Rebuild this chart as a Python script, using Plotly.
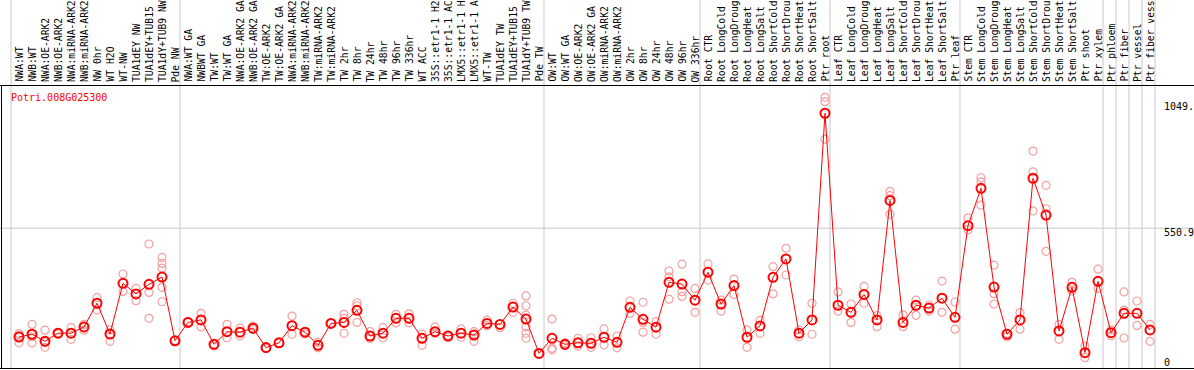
import plotly.graph_objects as go

gene = "Potri.008G025300"

labels = [
    "NWA:WT", "NWB:WT", "NWA:OE-ARK2", "NWB:OE-ARK2", "NWA:miRNA-ARK2", "NWB:miRNA-ARK2",
    "NW 0hr", "WT H2O", "WT-NW", "TUA1dEY NW", "TUA1dEY+TUB15", "TUA1dY+TUB9 NW", "Pde NW",
    "NWA:WT GA", "NWBWT GA", "TW:WT", "TW:WT GA", "NWA:OE-ARK2 GA", "NWB:OE-ARK2 GA",
    "TW:OE-ARK2", "TW:OE-ARK2 GA", "NWA:miRNA-ARK2", "NWB:miRNA-ARK2", "TW:miRNA-ARK2",
    "TW:miRNA-ARK2", "TW 2hr", "TW 8hr", "TW 24hr", "TW 48hr", "TW 96hr", "TW 336hr",
    "WT ACC", "35S::etr1-1 H2", "35S::etr1-1 AC", "LMX5::etr1-1 H", "LMX5::etr1-1 A",
    "WT-TW", "TUA1dEY TW", "TUA1dEY+TUB15", "TUA1dY+TUB9 TW", "Pde TW",
    "OW:WT", "OW:WT GA", "OW:OE-ARK2", "OW:OE-ARK2 GA", "OW:miRNA-ARK2", "OW:miRNA-ARK2",
    "OW 2hr", "OW 8hr", "OW 24hr", "OW 48hr", "OW 96hr", "OW 336hr",
    "Root CTR", "Root LongCold", "Root LongDroug", "Root LongHeat", "Root LongSalt",
    "Root ShortCold", "Root ShortDrou", "Root ShortHeat", "Root ShortSalt", "Ptr root",
    "Leaf CTR", "Leaf LongCold", "Leaf LongDroug", "Leaf LongHeat", "Leaf LongSalt",
    "Leaf ShortCold", "Leaf ShortDrou", "Leaf ShortHeat", "Leaf ShortSalt", "Ptr leaf",
    "Stem CTR", "Stem LongCold", "Stem LongDroug", "Stem LongHeat", "Stem LongSalt",
    "Stem ShortCold", "Stem ShortDrou", "Stem ShortHeat", "Stem ShortSalt", "Ptr shoot",
    "Ptr xylem", "Ptr phloem", "Ptr fiber", "Ptr vessel", "Ptr fiber vess",
]

means = [
    119, 130, 102, 134, 134, 159, 253, 131, 332, 290, 328, 357, 104,
    177, 187, 90, 140, 138, 154, 77, 96, 164, 138, 86, 173, 177, 225, 123, 134, 193, 193,
    114, 140, 123, 134, 127, 173, 169, 238, 190, 54,
    114, 90, 96, 94, 118, 98, 237, 189, 158, 336, 329, 265,
    376, 250, 323, 118, 163, 356, 429, 134, 187, 1007,
    245, 217, 288, 187, 661, 177, 245, 234, 273, 197,
    561, 709, 317, 130, 187, 749, 603, 143, 316, 57,
    340, 136, 213, 213, 147,
]

replicates = [
    [133, 96, 127], [169, 96, 120], [146, 78, 100], [137, 131], [156, 110], [169, 146],
    [275, 226], [147, 102], [369, 300], [312, 263], [488, 296, 193],
    [435, 411, 392, 316, 259], [106],
    [180], [213, 159], [84], [169, 116], [154, 123], [162, 148], [74], [96], [202, 130],
    [140, 132], [98, 76], [175], [209, 134, 193], [255, 243, 177], [140, 113], [156, 116],
    [209, 175], [211, 175], [131, 86], [159, 134], [126, 118], [151, 118], [140, 102],
    [186, 164], [156], [253, 217], [282, 243, 206, 160, 134, 114], [52],
    [190, 74, 68], [96, 86], [114, 83], [116, 78], [151, 88], [123, 76], [262, 213],
    [257, 138, 177], [180, 130], [381, 358, 269], [408, 299, 280], [312, 217],
    [409, 345], [265, 222], [349, 288], [147, 78], [185, 134], [398, 290], [471, 365],
    [147, 120], [253, 130], [1070, 1053, 904],
    [298, 222], [250, 177], [320, 253], [204, 160], [697, 680, 606], [207, 160],
    [265, 205], [246, 222], [341, 217], [258, 150],
    [592, 545], [751, 735, 642], [404, 291, 250], [134, 120], [216, 150],
    [857, 774, 619], [721, 628, 459], [169, 110], [336, 302], [83, 37],
    [388, 312], [147, 124], [298, 115, 226], [262, 165], [169, 102],
]

group_ends = [-1, 12, 40, 52, 62, 72, 83, 84, 85, 86, 87]
ytick_vals = [0, 550.9, 1049]
ytick_text = ["0", "550.9", "1049."]

# ---- geometry (pixels) ----
W, H = 1194, 370
PLOT_TOP, PLOT_BOT = 85, 369
PH = PLOT_BOT - PLOT_TOP
STEP = 13.0
X0 = 19.0
xmin = -X0 / STEP
xmax = xmin + W / STEP
K = 0.252
ZERO_PX = 367.0
ymin = (ZERO_PX - PLOT_BOT) / K
ymax = (ZERO_PX - PLOT_TOP) / K


def py(p):
    return (PLOT_BOT - p) / PH


fig = go.Figure()

rx, ry = [], []
for i, rs in enumerate(replicates):
    for v in rs:
        rx.append(i)
        ry.append(v)

fig.add_trace(go.Scatter(
    x=rx, y=ry, mode="markers",
    marker=dict(symbol="circle-open", size=8, color="#f2a0a0", line=dict(width=1.2, color="#f2a0a0")),
    hoverinfo="skip", showlegend=False, cliponaxis=False,
))
fig.add_trace(go.Scatter(
    x=list(range(len(means))), y=means, mode="lines+markers",
    line=dict(color="#ff0000", width=1),
    marker=dict(symbol="circle-open", size=9, color="#ff0000", line=dict(width=2, color="#ff0000")),
    showlegend=False, cliponaxis=False,
))

shapes = []
for g in group_ends:
    px = X0 + STEP * (g + 0.385)
    shapes.append(dict(type="line", xref="paper", yref="paper",
                       x0=px / W, x1=px / W, y0=0, y1=py(0),
                       line=dict(color="#c8c8c8", width=1), layer="below"))
shapes.append(dict(type="line", xref="paper", yref="y", x0=0, x1=1,
                   y0=ytick_vals[1], y1=ytick_vals[1],
                   line=dict(color="#c8c8c8", width=1), layer="below"))
# plot borders: top, bottom, left
shapes.append(dict(type="line", xref="paper", yref="paper", x0=0, x1=1, y0=py(85.5), y1=py(85.5),
                   line=dict(color="black", width=1)))
shapes.append(dict(type="line", xref="paper", yref="paper", x0=0, x1=1, y0=py(368.5), y1=py(368.5),
                   line=dict(color="black", width=1)))
shapes.append(dict(type="line", xref="paper", yref="paper", x0=1.5 / W, x1=1.5 / W,
                   y0=py(368.5), y1=py(85.5), line=dict(color="black", width=1)))

annotations = []
mono = "DejaVu Sans Mono"
for i, lab in enumerate(labels):
    px = X0 + STEP * i
    annotations.append(dict(
        text=lab, xref="paper", yref="paper", x=px / W, y=py(83),
        xanchor="center", yanchor="bottom", textangle=-90, showarrow=False,
        font=dict(family=mono, size=9.7, color="black"), borderpad=0,
    ))

annotations.append(dict(text=gene, xref="paper", yref="paper", x=10 / W, y=py(97),
                        xanchor="left", yanchor="middle", showarrow=False,
                        font=dict(family=mono, size=10, color="#ff0000"), borderpad=0))

offsets = [-5, 4, 4]
for v, t, off in zip(ytick_vals, ytick_text, offsets):
    pv = ZERO_PX - K * v + off
    annotations.append(dict(text=t, xref="paper", yref="paper", x=1163 / W, y=py(pv),
                            xanchor="left", yanchor="middle", showarrow=False,
                            font=dict(family=mono, size=10, color="black"), borderpad=0))

fig.update_layout(
    width=W, height=H,
    margin=dict(l=0, r=0, t=PLOT_TOP, b=H - PLOT_BOT),
    paper_bgcolor="white", plot_bgcolor="white",
    xaxis=dict(range=[xmin, xmax], showgrid=False, zeroline=False, showticklabels=False,
               showline=False, ticks="", automargin=False, fixedrange=True),
    yaxis=dict(range=[ymin, ymax], showgrid=False, zeroline=False, showticklabels=False,
               showline=False, ticks="", automargin=False, fixedrange=True),
    shapes=shapes, annotations=annotations, showlegend=False,
    template="none", hovermode=False,
)

fig.write_html(
    "out.html",
    config={"displayModeBar": False, "staticPlot": True},
    post_script="document.body.style.margin='0px';document.body.style.overflow='hidden';",
)
